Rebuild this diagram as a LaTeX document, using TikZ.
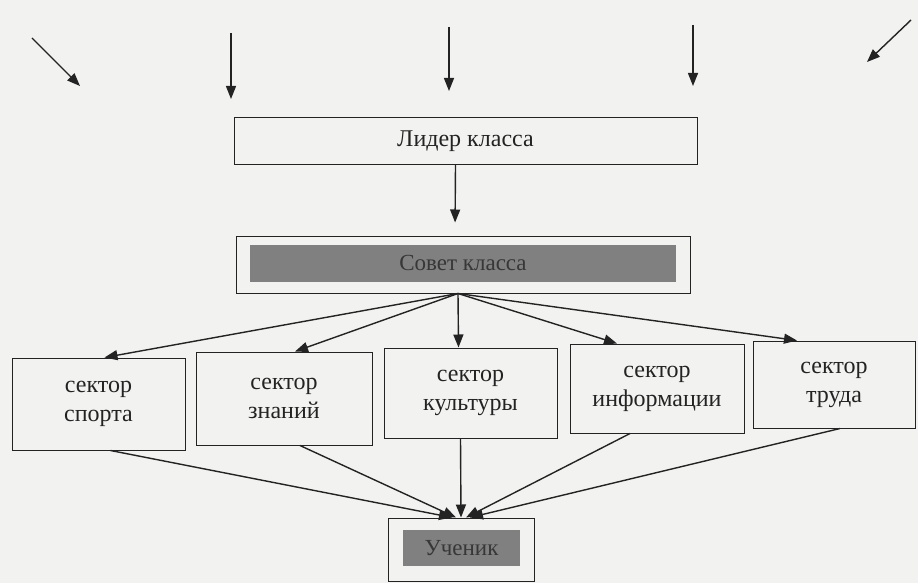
\documentclass[tikz,border=0pt]{standalone}
\usepackage{fontspec}
\setmainfont{Liberation Serif}
\usetikzlibrary{arrows.meta}
\definecolor{paper}{RGB}{242,242,240}
\definecolor{ink}{RGB}{35,35,35}
\definecolor{bar}{RGB}{128,128,128}
\definecolor{bartext}{RGB}{55,55,55}

\begin{document}
\begin{tikzpicture}[x=1pt,y=-1pt,
		box/.style={draw=ink,line width=1pt,inner sep=0pt,align=center,text=ink,
			font=\fontsize{24}{29}\selectfont},
		greybar/.style={fill=bar,inner sep=0pt,text=bartext,
			font=\fontsize{23}{26}\selectfont},
		arr/.style={draw=ink,line width=1.4pt,-{Triangle[length=13pt,width=10pt]}}]
				\fill [paper] (0,0) rectangle (918,583);
				\useasboundingbox (0,0) rectangle (918,583);
				% top
				\node [box,minimum width=463pt,minimum height=46pt] (lider) at (465.5,141) {Лидер класса};
				\node [box,minimum width=454pt,minimum height=57pt] (sovet) at (463,264.5) {};
				\node [greybar,minimum width=426pt,minimum height=37pt] (sovetbar) at (463,263) {Совет класса};
				% sectors
				\node [box,minimum width=173pt,minimum height=92pt] (sport) at (98.5,404) {сектор\\спорта};
				\node [box,minimum width=176pt,minimum height=93pt] (znan) at (284,398.5) {сектор\\знаний};
				\node [box,minimum width=173pt,minimum height=90pt] (kult) at (470.5,393) {сектор\\культуры};
				\node [box,minimum width=174pt,minimum height=89pt] (inform) at (657,388.5) {сектор\\информации};
				\node [box,minimum width=162pt,minimum height=87pt] (trud) at (834,384.5) {сектор\\труда};
				% pupil
				\node [box,minimum width=146pt,minimum height=63pt] (uchenik) at (461,549.5) {};
				\node [greybar,minimum width=117pt,minimum height=36pt] (uchenikbar) at (461.5,548) {Ученик};
				% free arrows on top
				\coordinate (in1s) at (32,38);   \coordinate (in1e) at (80,86);
				\coordinate (in2s) at (231,33);  \coordinate (in2e) at (231,99);
				\coordinate (in3s) at (449,27);  \coordinate (in3e) at (449,91);
				\coordinate (in4s) at (693,25);  \coordinate (in4e) at (693,86);
				\coordinate (in5s) at (911,20);  \coordinate (in5e) at (867,62);
				\foreach \i in {1,...,5}
					\draw [arr] (in\i s) -- (in\i e);
				\draw [arr,shorten >=13pt] ([xshift=-10pt]lider.south) -- ([xshift=-8pt]sovet.north);
				% fan
				\coordinate (fan) at ([xshift=-5pt]sovet.south);
				\draw [arr] (fan) -- ([xshift=6pt]sport.north);
				\draw [arr] (fan) -- ([xshift=11pt]znan.north);
				\draw [arr] (fan) -- ([xshift=-12pt]kult.north);
				\draw [arr] (fan) -- ([xshift=-40pt]inform.north);
				\draw [arr] (fan) -- ([xshift=-37pt]trud.north);
				% to pupil
				\draw [arr] ([xshift=12pt]sport.south) -- ([xshift=-9pt]uchenik.north);
				\draw [arr] ([xshift=16pt]znan.south) -- ([xshift=-5pt]uchenik.north);
				\draw [arr] ([xshift=-10pt]kult.south) -- (uchenik.north);
				\draw [arr] ([xshift=-27pt]inform.south) -- ([xshift=5pt]uchenik.north);
				\draw [arr] ([xshift=6pt]trud.south) -- ([xshift=9pt]uchenik.north);
\end{tikzpicture}
\end{document}
